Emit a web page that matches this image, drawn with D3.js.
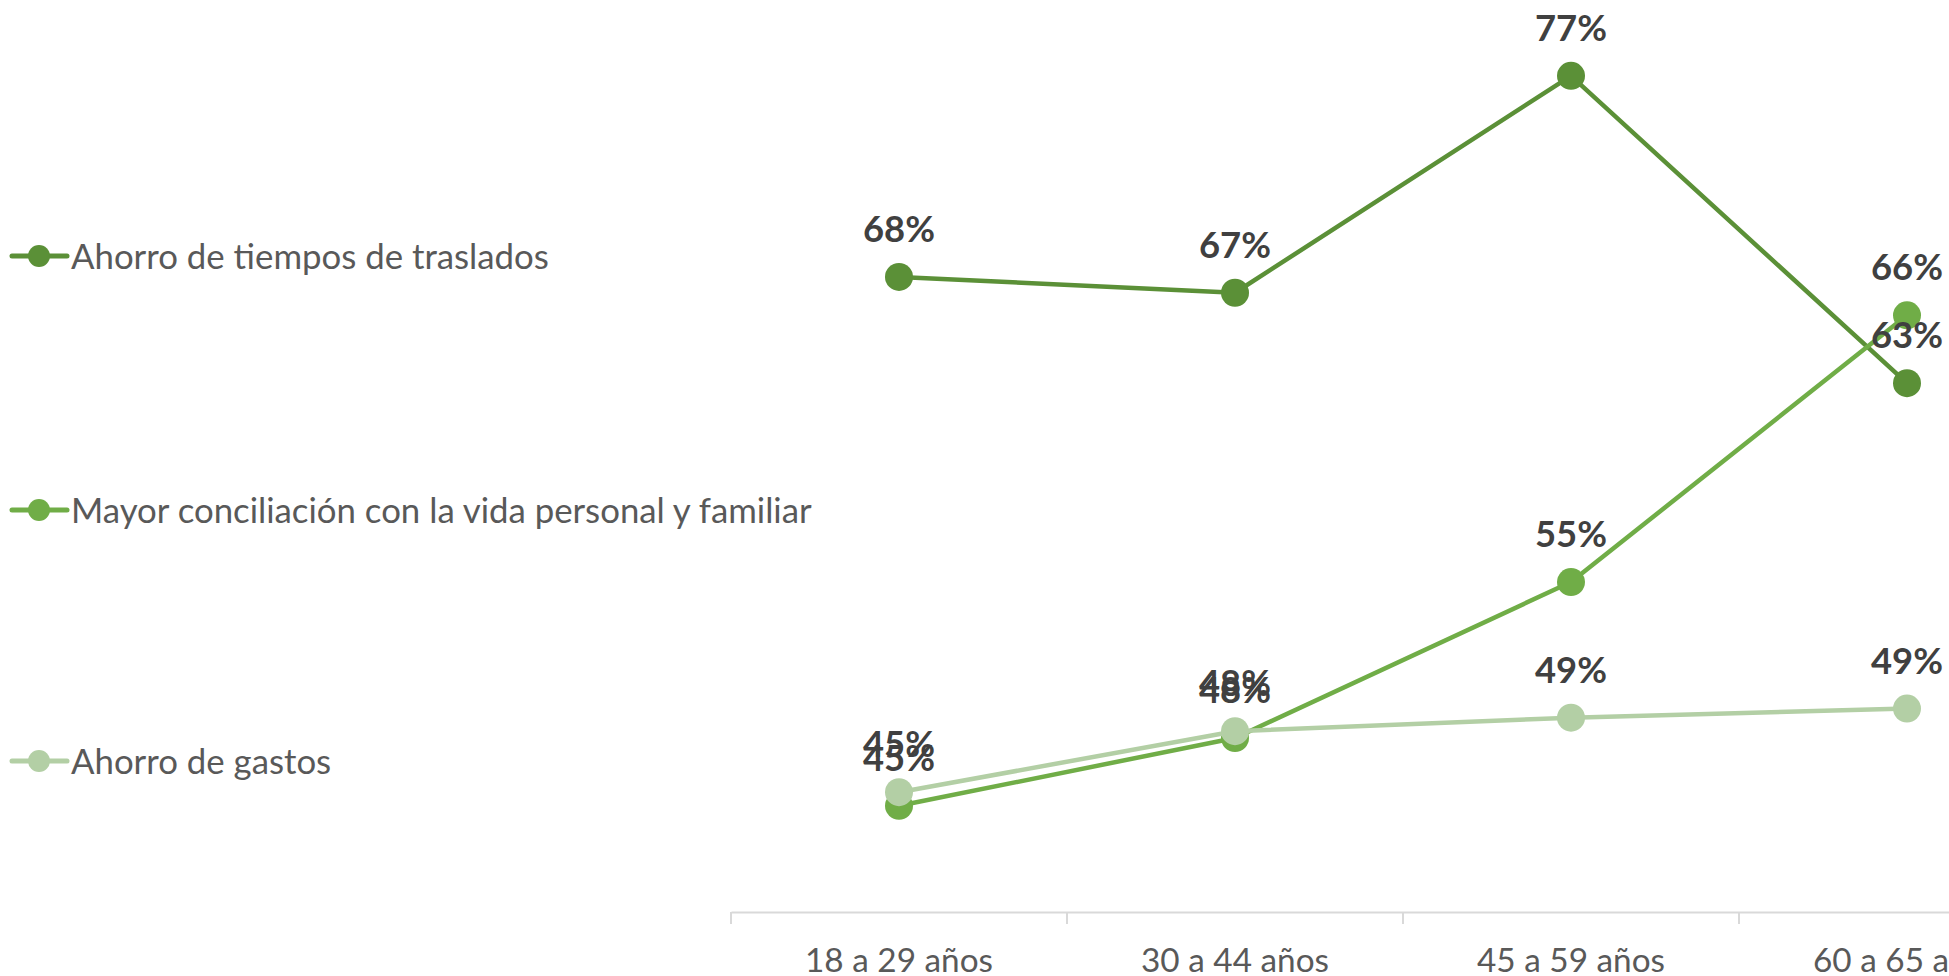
<!DOCTYPE html>
<html>
<head>
<meta charset="utf-8">
<script src="https://cdn.jsdelivr.net/npm/d3@7"></script>
<style>
  html, body { margin: 0; padding: 0; background: #ffffff; overflow: hidden; }
  svg { display: block; }
</style>
</head>
<body>
<svg id="chart" width="1949" height="976"></svg>
<script>
// ---- Data ----
const categories = ["18 a 29 años", "30 a 44 años", "45 a 59 años", "60 a 65 años"];
const seriesNames = [
  "Ahorro de tiempos de traslados",
  "Mayor conciliación con la vida personal y familiar",
  "Ahorro de gastos"
];
const trasladosValues = [0.681, 0.674, 0.770, 0.634];
const conciliacionValues = [0.447, 0.477, 0.546, 0.664];
const gastosValues = [0.453, 0.480, 0.486, 0.490];
const seriesColors = ["#5B9037", "#70AD47", "#B3CFA5"];
const yDomain = [0.4, 0.8];

const series = [
  { name: seriesNames[0], values: trasladosValues, color: seriesColors[0] },
  { name: seriesNames[1], values: conciliacionValues, color: seriesColors[1] },
  { name: seriesNames[2], values: gastosValues, color: seriesColors[2] }
];

// ---- Layout ----
const svg = d3.select("#chart");
const W = 1949, H = 976;
svg.append("rect").attr("width", W).attr("height", H).attr("fill", "#ffffff");

const plotLeft = 731, bandW = 336;
const plotBottom = 912, plotTop = 8;

const x = d3.scaleBand().domain(categories).range([plotLeft, plotLeft + bandW * categories.length]).padding(0);
const xc = d => x(d) + x.bandwidth() / 2;
const y = d3.scaleLinear().domain(yDomain).range([plotBottom, plotTop]);

function fitFont(sel, family, weight, sampleText, targetWidth) {
  const t = svg.append("text").attr("font-family", family).attr("font-weight", weight)
    .attr("font-size", 100).text(sampleText);
  const w = t.node().getComputedTextLength();
  t.remove();
  return 100 * targetWidth / w;
}

const FONT = "Lato, 'Open Sans', 'Noto Sans', sans-serif";
const axisFont = fitFont(svg, FONT, 400, "18 a 29 años", 188);
const legendFont = fitFont(svg, FONT, 400, seriesNames[1], 741);
const labelFont = fitFont(svg, FONT, 700, "66%", 72);

// ---- X axis ----
const axisG = svg.append("g").attr("transform", `translate(0,${plotBottom})`)
  .call(d3.axisBottom(x).tickSize(0).tickPadding(0));
axisG.select(".domain").attr("stroke", "#D9D9D9").attr("stroke-width", 2);
axisG.selectAll(".tick text")
  .attr("font-family", FONT)
  .attr("font-size", axisFont)
  .attr("fill", "#595959")
  .attr("dy", null)
  .attr("y", 60);
// boundary tick marks
const bounds = categories.map(c => x(c)).concat([x(categories[categories.length - 1]) + x.bandwidth()]);
axisG.selectAll("line.bound").data(bounds).join("line")
  .attr("class", "bound")
  .attr("x1", d => d).attr("x2", d => d)
  .attr("y1", 0).attr("y2", 12)
  .attr("stroke", "#D9D9D9").attr("stroke-width", 2);

// ---- Lines & markers ----
const line = d3.line().x((d, i) => xc(categories[i])).y(d => y(d));
const seriesG = svg.append("g");
series.forEach(s => {
  const g = seriesG.append("g");
  g.append("path").datum(s.values)
    .attr("d", line)
    .attr("fill", "none")
    .attr("stroke", s.color)
    .attr("stroke-width", 4.5)
    .attr("stroke-linejoin", "round")
    .attr("stroke-linecap", "round");
  g.selectAll("circle").data(s.values).join("circle")
    .attr("cx", (d, i) => xc(categories[i]))
    .attr("cy", d => y(d))
    .attr("r", 14)
    .attr("fill", s.color);
});

// ---- Data labels ----
const fmt = d3.format(".0%");
const labelsG = svg.append("g");
series.forEach(s => {
  labelsG.selectAll(null).data(s.values).join("text")
    .attr("x", (d, i) => xc(categories[i]))
    .attr("y", d => y(d) - 35)
    .attr("text-anchor", "middle")
    .attr("font-family", FONT)
    .attr("font-weight", 700)
    .attr("font-size", labelFont)
    .attr("fill", "#404040")
    .text(d => fmt(d));
});

// ---- Legend ----
const legendY = [256, 510, 761];
const legendG = svg.append("g");
series.forEach((s, i) => {
  const g = legendG.append("g").attr("transform", `translate(0,${legendY[i]})`);
  g.append("line").attr("x1", 12).attr("x2", 67).attr("y1", 0).attr("y2", 0)
    .attr("stroke", s.color).attr("stroke-width", 5).attr("stroke-linecap", "round");
  g.append("circle").attr("cx", 39).attr("cy", 0).attr("r", 11).attr("fill", s.color);
  g.append("text").attr("x", 71).attr("y", 0).attr("dy", "0.36em")
    .attr("font-family", FONT)
    .attr("font-size", legendFont)
    .attr("fill", "#595959")
    .text(s.name);
});
</script>
</body>
</html>
